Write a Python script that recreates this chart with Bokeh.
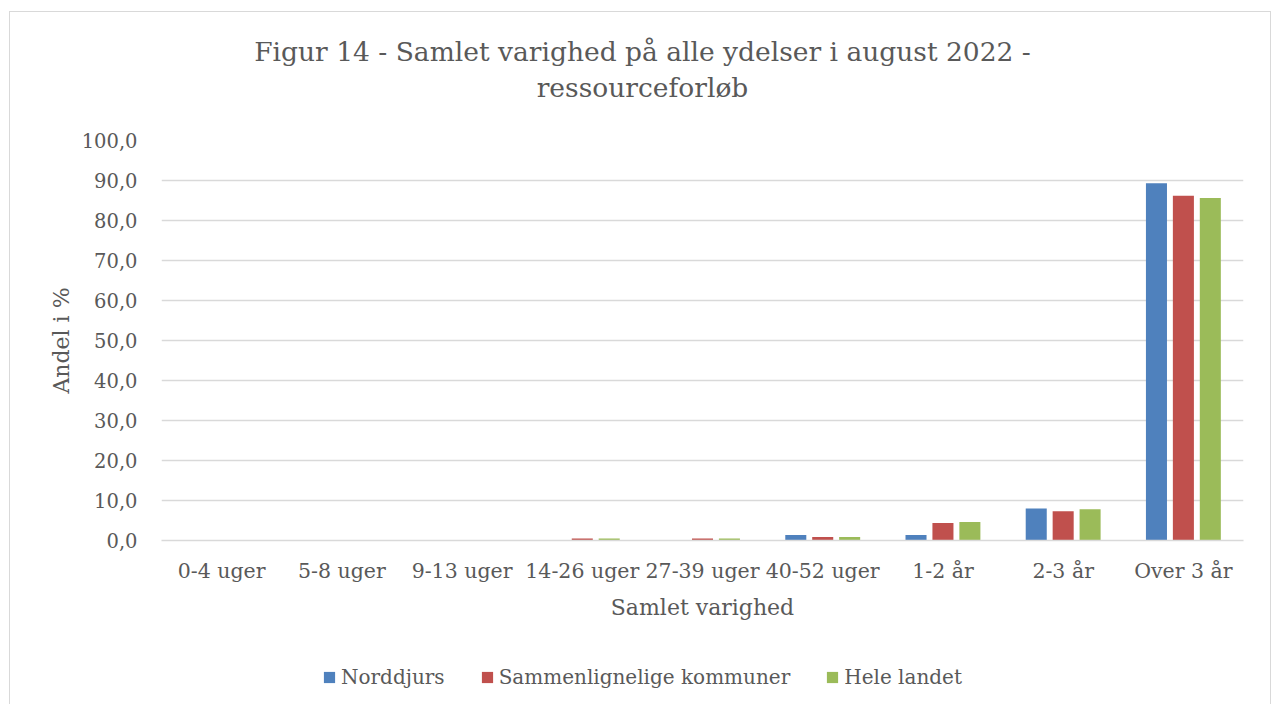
from bokeh.plotting import figure
from bokeh.models import (ColumnDataSource, FactorRange, Label, Legend, LegendItem,
                          FixedTicker, Range1d)
from bokeh.layouts import column
from bokeh.transform import dodge
from bokeh.embed import file_html
from bokeh.resources import INLINE

categories = ["0-4 uger", "5-8 uger", "9-13 uger", "14-26 uger", "27-39 uger",
              "40-52 uger", "1-2 år", "2-3 år", "Over 3 år"]
norddjurs = [0.0, 0.0, 0.0, 0.0, 0.0, 1.4, 1.4, 8.0, 89.3]
sammenlignelige = [0.0, 0.0, 0.0, 0.5, 0.5, 0.9, 4.4, 7.3, 86.2]
hele_landet = [0.0, 0.0, 0.0, 0.5, 0.5, 0.9, 4.6, 7.8, 85.6]
series_names = ["Norddjurs", "Sammenlignelige kommuner", "Hele landet"]
y_ticks = [0, 10, 20, 30, 40, 50, 60, 70, 80, 90, 100]
y_tick_labels = ["0,0", "10,0", "20,0", "30,0", "40,0", "50,0", "60,0",
                 "70,0", "80,0", "90,0", "100,0"]
title_lines = ["Figur 14 - Samlet varighed på alle ydelser i august 2022 -",
               "ressourceforløb"]

FONT = "DejaVu Serif"
TXT = "#595959"
GRID = "#d9d9d9"
colors = ["#4F81BD", "#C0504D", "#9BBB59"]
keys = ["a", "b", "c"]
offsets = [-0.224, 0.0, 0.224]
W = 1260

src = ColumnDataSource(dict(cat=categories, a=norddjurs, b=sammenlignelige, c=hele_landet))

# ---- title strip ----
tp = figure(x_range=Range1d(0, 1), y_range=Range1d(0, 1), width=W, height=110,
            output_backend="svg", toolbar_location=None, min_border=0,
            outline_line_color=None)
tp.axis.visible = False
tp.grid.visible = False
for line, y in zip(title_lines, [71, 35]):
    tp.add_layout(Label(x=481, y=y, x_units="screen", y_units="screen", text=line,
                        text_font=FONT, text_font_size="26.5px", text_color=TXT,
                        text_align="center", text_baseline="alphabetic"))

# ---- main chart ----
p = figure(x_range=FactorRange(*categories, range_padding=0), y_range=(0, 100),
           width=W, height=520, output_backend="svg", toolbar_location=None,
           min_border_left=151, min_border_right=27, min_border_top=18,
           min_border_bottom=102)
p.outline_line_color = None
p.background_fill_color = "white"
p.border_fill_color = "white"

for key, off, col in zip(keys, offsets, colors):
    p.vbar(x=dodge("cat", off, range=p.x_range), top=key, width=0.175,
           source=src, fill_color=col, line_color=None)

p.xgrid.grid_line_color = None
p.ygrid.grid_line_color = GRID
p.ygrid.grid_line_width = 1.4
p.ygrid.ticker = FixedTicker(ticks=y_ticks)

p.yaxis.ticker = FixedTicker(ticks=y_ticks)
p.yaxis.major_label_overrides = {t: l for t, l in zip(y_ticks, y_tick_labels)}
p.yaxis.axis_line_color = None
p.yaxis.major_tick_line_color = None
p.yaxis.minor_tick_line_color = None
p.yaxis.major_label_standoff = 18
p.yaxis.major_label_text_font = FONT
p.yaxis.major_label_text_font_size = "19.5px"
p.yaxis.major_label_text_color = TXT
p.yaxis.axis_label = "Andel i %"
p.yaxis.axis_label_text_font = FONT
p.yaxis.axis_label_text_font_size = "22px"
p.yaxis.axis_label_text_font_style = "normal"
p.yaxis.axis_label_text_color = TXT
p.yaxis.axis_label_standoff = 5

p.xaxis.axis_line_color = GRID
p.xaxis.axis_line_width = 1.4
p.xaxis.major_tick_line_color = None
p.xaxis.minor_tick_line_color = None
p.xaxis.major_label_standoff = 12
p.xaxis.major_label_text_font = FONT
p.xaxis.major_label_text_font_size = "20.5px"
p.xaxis.major_label_text_color = TXT
p.xaxis.axis_label = "Samlet varighed"
p.xaxis.axis_label_text_font = FONT
p.xaxis.axis_label_text_font_size = "22px"
p.xaxis.axis_label_text_font_style = "normal"
p.xaxis.axis_label_text_color = TXT
p.xaxis.axis_label_standoff = 9

# ---- legend strip ----
lg = figure(x_range=FactorRange(*categories, range_padding=0), y_range=Range1d(0, 100),
            width=W, height=62, output_backend="svg", toolbar_location=None,
            min_border=0, outline_line_color=None)
lg.axis.visible = False
lg.grid.visible = False
lg_renderers = []
for key, off, col in zip(keys, offsets, colors):
    r = lg.vbar(x=dodge("cat", off, range=lg.x_range), top=key, width=0.175,
                source=src, fill_color=col, line_color=None)
    r.visible = False
    lg_renderers.append(r)
legend = Legend(items=[LegendItem(label=n, renderers=[r]) for n, r in zip(series_names, lg_renderers)],
                orientation="horizontal", location=(161, 15),
                glyph_width=14, glyph_height=14, label_standoff=5, spacing=35,
                padding=0, margin=0, border_line_color=None, background_fill_alpha=0,
                inactive_fill_alpha=0,
                label_text_font=FONT, label_text_font_size="20px", label_text_color=TXT)
lg.add_layout(legend)

layout = column(tp, p, lg, spacing=0)
layout.margin = (11, 0, 0, 9)
layout.styles = {"border-top": "1px solid #d9d9d9", "border-left": "1px solid #d9d9d9",
                 "border-right": "1px solid #d9d9d9"}

open("out.html", "w").write(file_html(layout, INLINE))
